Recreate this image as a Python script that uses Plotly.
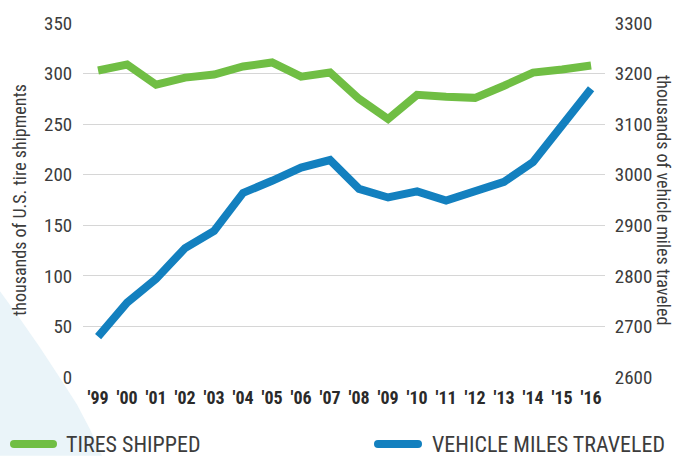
import plotly.graph_objects as go

years = ["'99", "'00", "'01", "'02", "'03", "'04", "'05", "'06", "'07", "'08",
         "'09", "'10", "'11", "'12", "'13", "'14", "'15", "'16"]
tires_shipped = [303, 309, 289, 296, 299, 307, 311, 297, 301, 275,
                 255, 279, 277, 276, 288, 301, 304, 308]
vehicle_miles = [2680, 2747, 2794, 2855, 2889, 2964, 2988, 3014, 3029, 2972,
                 2955, 2967, 2949, 2966, 2986, 3025, 3097, 3170]
left_ticks = [0, 50, 100, 150, 200, 250, 300, 350]
right_ticks = [2600, 2700, 2800, 2900, 3000, 3100, 3200, 3300]

GREEN = "#70BE44"
BLUE = "#1380BF"
TEXT = "#3c3c3c"
FONT = "Roboto Condensed, Liberation Sans Narrow, DejaVu Sans Condensed, Roboto, sans-serif"

x = list(range(len(years)))

fig = go.Figure()
fig.add_trace(go.Scatter(x=x, y=tires_shipped, mode="lines", name="TIRES SHIPPED",
                         line=dict(color=GREEN, width=8), yaxis="y"))
fig.add_trace(go.Scatter(x=x, y=vehicle_miles, mode="lines", name="VEHICLE MILES TRAVELED",
                         line=dict(color=BLUE, width=8), yaxis="y2"))

W, H = 682, 457
L, R, T, B = 83, 77, 18, 80
pw, ph = W - L - R, H - T - B

def px_x(p):
    return (p - L) / pw

def px_y(p):
    return (H - B - p) / ph

# background wedge
pts = [(0, 290), (20, 318), (40, 347), (60, 378), (77, 405), (90, 430), (102, 457), (0, 457)]
path = "M " + " L ".join(f"{px_x(a):.4f},{px_y(b):.4f}" for a, b in pts) + " Z"
shapes = [dict(type="path", path=path, xref="paper", yref="paper",
               fillcolor="#EAF4F9", line=dict(width=0), layer="below")]

# legend symbols (rounded lines)
leg_y = px_y(445)
def legend_symbol(x0, x1, color):
    out = [dict(type="line", xref="paper", yref="paper", x0=px_x(x0), x1=px_x(x1),
                y0=leg_y, y1=leg_y, line=dict(color=color, width=8))]
    for cx in (x0, x1):
        out.append(dict(type="circle", xref="paper", yref="paper",
                        xsizemode="pixel", ysizemode="pixel",
                        xanchor=px_x(cx), yanchor=leg_y,
                        x0=-4, x1=4, y0=-4, y1=4,
                        fillcolor=color, line=dict(width=0)))
    return out

shapes += legend_symbol(14, 53, GREEN)
shapes += legend_symbol(378, 418, BLUE)

annotations = [
    dict(text="TIRES SHIPPED", xref="paper", yref="paper", x=px_x(64), y=leg_y,
         xanchor="left", yanchor="middle", showarrow=False,
         font=dict(size=22, color=TEXT, family=FONT)),
    dict(text="VEHICLE MILES TRAVELED", xref="paper", yref="paper", x=px_x(430), y=leg_y,
         xanchor="left", yanchor="middle", showarrow=False,
         font=dict(size=22, color=TEXT, family=FONT)),
    dict(text="thousands of U.S. tire shipments", xref="paper", yref="paper",
         x=px_x(19), y=0.5, xanchor="center", yanchor="middle", textangle=-90,
         showarrow=False, font=dict(size=18, color=TEXT, family=FONT)),
    dict(text="thousands of vehicle miles traveled", xref="paper", yref="paper",
         x=px_x(664), y=0.5, xanchor="center", yanchor="middle", textangle=90,
         showarrow=False, font=dict(size=18, color=TEXT, family=FONT)),
]

fig.update_layout(
    width=W, height=H,
    margin=dict(l=L, r=R, t=T, b=B, pad=0),
    paper_bgcolor="white", plot_bgcolor="rgba(0,0,0,0)",
    showlegend=False,
    font=dict(family=FONT, color=TEXT),
    xaxis=dict(tickmode="array", tickvals=x, ticktext=years, range=[-0.52, 17.48],
               showgrid=False, zeroline=False, showline=False,
               ticks="outside", ticklen=4, tickcolor="rgba(0,0,0,0)",
               tickfont=dict(size=18, color="#2a2a2a", family=FONT, weight="bold")),
    yaxis=dict(range=[0, 350], tickvals=left_ticks, showgrid=True, gridcolor="#d6d6d6",
               gridwidth=1, zeroline=False, showline=False,
               ticks="outside", ticklen=6, tickcolor="rgba(0,0,0,0)",
               tickfont=dict(size=19, color=TEXT, family=FONT)),
    yaxis2=dict(range=[2600, 3300], tickvals=right_ticks, overlaying="y", side="right",
                showgrid=False, zeroline=False, showline=False,
                ticks="outside", ticklen=5, tickcolor="rgba(0,0,0,0)",
                tickfont=dict(size=19, color=TEXT, family=FONT)),
    shapes=shapes,
    annotations=annotations,
)

fig.write_html("out.html", config={"displayModeBar": False},
               post_script="document.body.style.margin='0';document.body.style.padding='0';document.body.style.overflow='hidden';")
